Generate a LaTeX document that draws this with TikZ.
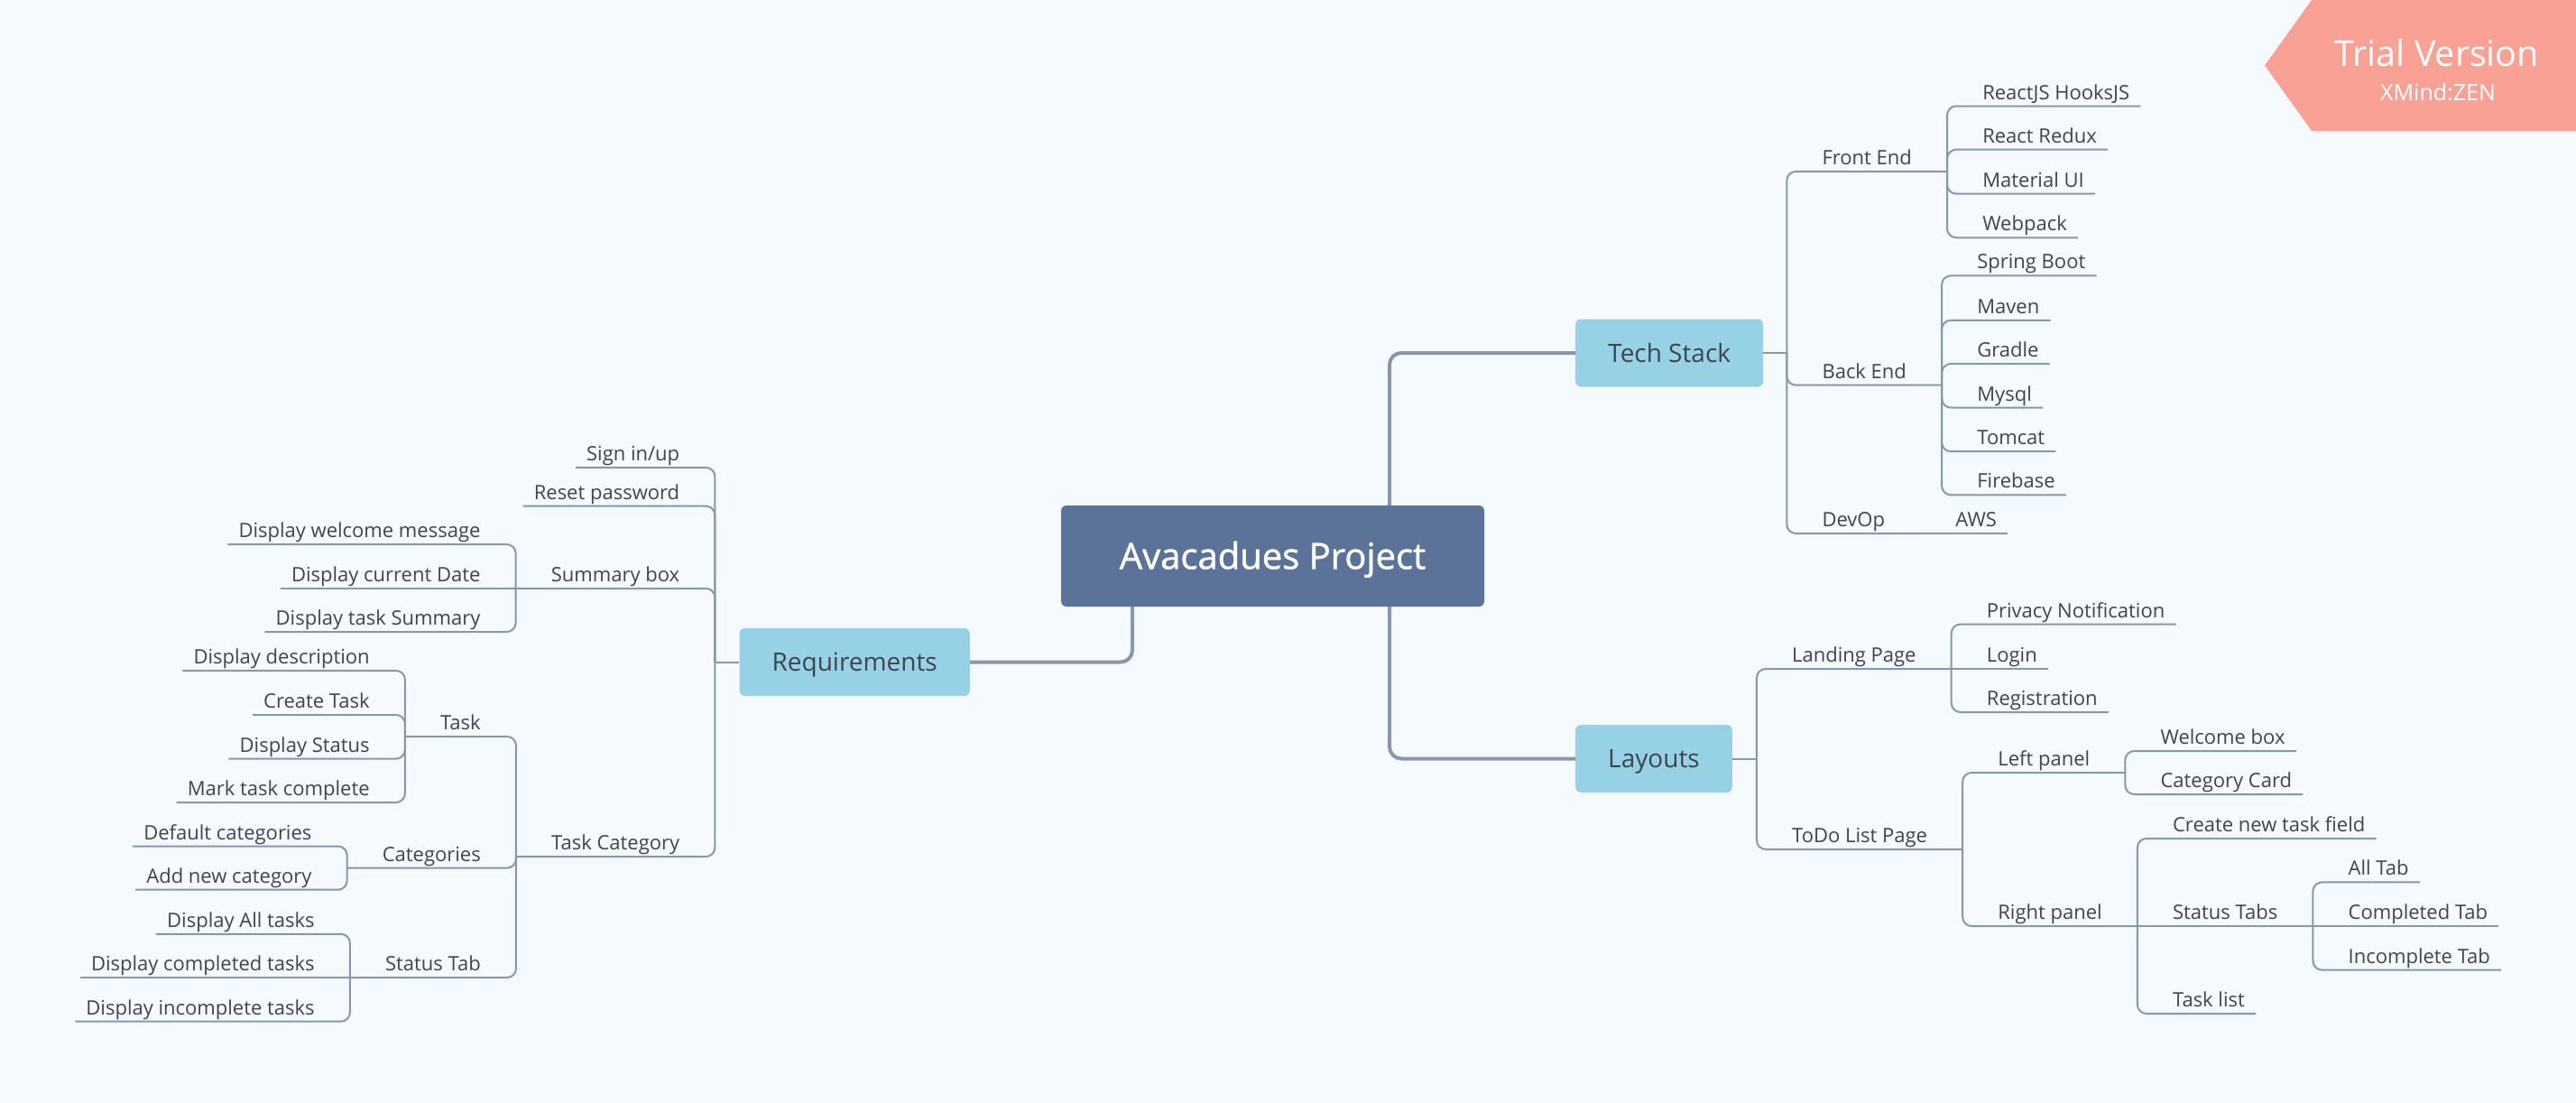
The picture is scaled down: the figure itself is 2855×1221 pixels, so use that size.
\documentclass[tikz,border=0pt]{standalone}
\usepackage{fontspec}
\setmainfont{Open Sans}
\newfontfamily\rootfont{Open Sans}[FakeBold=1.2]
\definecolor{bgblue}{HTML}{F5FAFE}
\definecolor{rootblue}{HTML}{5C7399}
\definecolor{topicblue}{HTML}{97D1E6}
\definecolor{linegrey}{HTML}{8C96A9}
\definecolor{textgrey}{HTML}{3E4452}
\definecolor{trialred}{HTML}{F9A194}
\begin{document}
\begin{tikzpicture}[x=1pt,y=-1pt,
    root/.style={rectangle, rounded corners=6pt, fill=rootblue, text=white,
        font=\rootfont\fontsize{40}{48}\selectfont, minimum width=469pt,
        minimum height=112pt, text height=28.6pt, text depth=0pt},
    topic/.style={rectangle, rounded corners=6pt, fill=topicblue, text=textgrey,
        font=\fontsize{28}{34}\selectfont, minimum height=75pt,
        inner xsep=36pt, text height=20pt, text depth=0pt},
    sub/.style={inner xsep=39pt, inner ysep=0pt, text depth=7.3pt,
        text=textgrey, font=\fontsize{22}{26}\selectfont},
    leaf/.style={sub, inner xsep=12pt},
    subR/.style={sub, anchor=south west},
    subL/.style={sub, anchor=south east},
    leafR/.style={leaf, anchor=south west, xshift=27pt},
    leafL/.style={leaf, anchor=south east, xshift=-27pt},
    mainline/.style={draw=linegrey, line width=4pt, rounded corners=13pt},
    branch/.style={draw=linegrey, line width=2pt, rounded corners=10pt}]
    \path[fill=bgblue, use as bounding box] (0,0) rectangle (2855,1221);
    % trial banner
    \fill[trialred] (2510,72.5) -- (2562,0) -- (2855,0) -- (2855,145) -- (2562,145) -- cycle;
    \node[anchor=base, text=white, font=\fontsize{39.5}{46}\selectfont] (trial) at (2701,73.5) {Trial Version};
    \node[anchor=base, text=white, font=\fontsize{25}{30}\selectfont] (xmind) at (2702,111) {XMind:ZEN};
    % main topics
    \node[root] (ap) at (1410.5,616) {Avacadues Project};
    \node[topic, anchor=west] (ts) at (1746,391) {Tech Stack};
    \node[topic, anchor=west] (lay) at (1746,840.5) {Layouts};
    \node[topic, anchor=east] (req) at (1075,733.5) {Requirements};
    \draw[mainline] ([xshift=129.5pt]ap.north) |- (ts.west);
    \draw[mainline] ([xshift=129.5pt]ap.south) |- (lay.west);
    \draw[mainline] ([xshift=-155.5pt]ap.south) |- (req.east);
    % tech stack
    \coordinate (tsj) at ([xshift=26pt]ts.east);
    \node[subR] (fe) at (tsj |- 0,190) {Front End};
    \node[subR] (be) at (tsj |- 0,426.7) {Back End};
    \node[subR] (dev) at (tsj |- 0,591) {DevOp};
    \node[leafR] (rj) at (fe.south east |- 0,117.5) {ReactJS HooksJS};
    \node[leafR] (rr) at (fe.south east |- 0,165.7) {React Redux};
    \node[leafR] (mui) at (fe.south east |- 0,214.7) {Material UI};
    \node[leafR] (wp) at (fe.south east |- 0,263.3) {Webpack};
    \node[leafR] (spb) at (be.south east |- 0,305.4) {Spring Boot};
    \node[leafR] (mvn) at (be.south east |- 0,354.8) {Maven};
    \node[leafR] (grd) at (be.south east |- 0,403) {Gradle};
    \node[leafR] (sql) at (be.south east |- 0,451.6) {Mysql};
    \node[leafR] (tc) at (be.south east |- 0,500.2) {Tomcat};
    \node[leafR] (fb) at (be.south east |- 0,548.4) {Firebase};
    \node[leafR] (aws) at (dev.south east |- 0,591) {AWS};
    \draw[branch] (ts.east) -- (tsj);
    \draw[branch] (tsj) |- (fe.south east);
    \draw[branch] (tsj) |- (be.south east);
    \draw[branch] (tsj) |- (dev.south east);
    \draw[branch] (fe.south east) |- (rj.south east);
    \draw[branch] (fe.south east) |- (rr.south east);
    \draw[branch] (fe.south east) |- (mui.south east);
    \draw[branch] (fe.south east) |- (wp.south east);
    \draw[branch] (be.south east) |- (spb.south east);
    \draw[branch] (be.south east) |- (mvn.south east);
    \draw[branch] (be.south east) |- (grd.south east);
    \draw[branch] (be.south east) |- (sql.south east);
    \draw[branch] (be.south east) |- (tc.south east);
    \draw[branch] (be.south east) |- (fb.south east);
    \draw[branch] (dev.south east) -- (aws.south east);
    % layouts
    \coordinate (layj) at ([xshift=27pt]lay.east);
    \node[subR] (lp) at (layj |- 0,741) {Landing Page};
    \node[subR] (tdl) at (layj |- 0,941) {ToDo List Page};
    \node[leafR] (pn) at (lp.south east |- 0,691.6) {Privacy Notification};
    \node[leafR] (lg) at (lp.south east |- 0,741) {Login};
    \node[leafR] (reg) at (lp.south east |- 0,789) {Registration};
    \node[subR] (lpn) at (tdl.south east |- 0,856) {Left panel};
    \node[subR] (rpn) at (tdl.south east |- 0,1026) {Right panel};
    \node[leafR] (wb) at (lpn.south east |- 0,832) {Welcome box};
    \node[leafR] (cc) at (lpn.south east |- 0,880) {Category Card};
    \node[leafR] (ctf) at (rpn.south east |- 0,929) {Create new task field};
    \node[subR] (stt) at (rpn.south east |- 0,1026) {Status Tabs};
    \node[leafR] (tl) at (rpn.south east |- 0,1123) {Task list};
    \node[leafR] (at) at (stt.south east |- 0,977.4) {All Tab};
    \node[leafR] (ct) at (stt.south east |- 0,1026) {Completed Tab};
    \node[leafR] (it) at (stt.south east |- 0,1074.7) {Incomplete Tab};
    \draw[branch] (lay.east) -- (layj);
    \draw[branch] (layj) |- (lp.south east);
    \draw[branch] (layj) |- (tdl.south east);
    \draw[branch] (lp.south east) |- (pn.south east);
    \draw[branch] (lp.south east) -- (lg.south east);
    \draw[branch] (lp.south east) |- (reg.south east);
    \draw[branch] (tdl.south east) |- (lpn.south east);
    \draw[branch] (tdl.south east) |- (rpn.south east);
    \draw[branch] (lpn.south east) |- (wb.south east);
    \draw[branch] (lpn.south east) |- (cc.south east);
    \draw[branch] (rpn.south east) |- (ctf.south east);
    \draw[branch] (rpn.south east) -- (stt.south east);
    \draw[branch] (rpn.south east) |- (tl.south east);
    \draw[branch] (stt.south east) |- (at.south east);
    \draw[branch] (stt.south east) -- (ct.south east);
    \draw[branch] (stt.south east) |- (it.south east);
    % requirements
    \coordinate (reqj) at ([xshift=-27pt]req.west);
    \node[leafL] (sign) at (reqj |- 0,518) {Sign in/up};
    \node[leafL] (rp) at (reqj |- 0,560.7) {Reset password};
    \node[subL] (sbx) at (reqj |- 0,652) {Summary box};
    \node[subL] (tcat) at (reqj |- 0,949) {Task Category};
    \node[leafL] (dwm) at (sbx.south west |- 0,603) {Display welcome message};
    \node[leafL] (dcd) at (sbx.south west |- 0,652) {Display current Date};
    \node[leafL] (dts) at (sbx.south west |- 0,700) {Display task Summary};
    \node[subL] (task) at (tcat.south west |- 0,816) {Task};
    \node[subL] (cat) at (tcat.south west |- 0,961.6) {Categories};
    \node[subL] (stab) at (tcat.south west |- 0,1083) {Status Tab};
    \node[leafL] (ddesc) at (task.south west |- 0,743) {Display description};
    \node[leafL] (crt) at (task.south west |- 0,792) {Create Task};
    \node[leafL] (dst) at (task.south west |- 0,840.6) {Display Status};
    \node[leafL] (mtc) at (task.south west |- 0,889) {Mark task complete};
    \node[leafL] (dfc) at (cat.south west |- 0,937.5) {Default categories};
    \node[leafL] (anc) at (cat.south west |- 0,985.7) {Add new category};
    \node[leafL] (dat) at (stab.south west |- 0,1034.8) {Display All tasks};
    \node[leafL] (dct) at (stab.south west |- 0,1083) {Display completed tasks};
    \node[leafL] (dit) at (stab.south west |- 0,1131.7) {Display incomplete tasks};
    \draw[branch] (req.west) -- (reqj);
    \draw[branch] (reqj) |- (sign.south west);
    \draw[branch] (reqj) |- (rp.south west);
    \draw[branch] (reqj) |- (sbx.south west);
    \draw[branch] (reqj) |- (tcat.south west);
    \draw[branch] (sbx.south west) |- (dwm.south west);
    \draw[branch] (sbx.south west) -- (dcd.south west);
    \draw[branch] (sbx.south west) |- (dts.south west);
    \draw[branch] (tcat.south west) |- (task.south west);
    \draw[branch] (tcat.south west) |- (cat.south west);
    \draw[branch] (tcat.south west) |- (stab.south west);
    \draw[branch] (task.south west) |- (ddesc.south west);
    \draw[branch] (task.south west) |- (crt.south west);
    \draw[branch] (task.south west) |- (dst.south west);
    \draw[branch] (task.south west) |- (mtc.south west);
    \draw[branch] (cat.south west) |- (dfc.south west);
    \draw[branch] (cat.south west) |- (anc.south west);
    \draw[branch] (stab.south west) |- (dat.south west);
    \draw[branch] (stab.south west) -- (dct.south west);
    \draw[branch] (stab.south west) |- (dit.south west);
\end{tikzpicture}
\end{document}
